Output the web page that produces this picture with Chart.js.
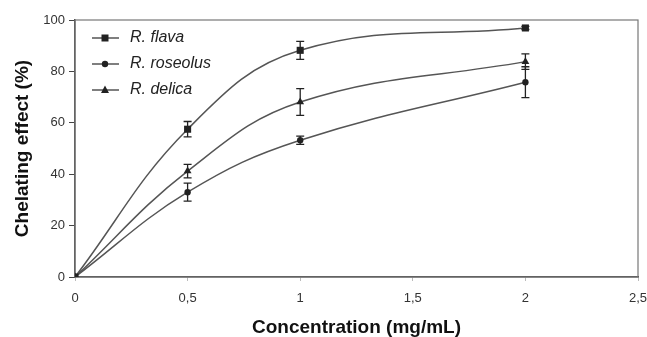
<!DOCTYPE html>
<html>
<head>
<meta charset="utf-8">
<script src="https://cdn.jsdelivr.net/npm/chart.js@4/dist/chart.umd.min.js"></script>
<style>
html, body { margin: 0; padding: 0; background: #fff; }
#wrap { width: 647px; height: 337px; }
</style>
</head>
<body>
<div id="wrap"><canvas id="chelatingChart" width="647" height="337"></canvas></div>
<script>
const concentrations = [0, 0.5, 1, 2];
const seriesNames = ['R. flava', 'R. roseolus', 'R. delica'];
const flavaValues = [0, 57.5, 88.2, 96.9];
const flavaErrors = [0, 3, 3.5, 0.6];
const roseolusValues = [0, 33, 53.2, 75.8];
const roseolusErrors = [0, 3.5, 1.6, 6];
const delicaValues = [0, 41.2, 68.1, 83.8];
const delicaErrors = [0, 2.6, 5.2, 3];
const xTicks = [0, 0.5, 1, 1.5, 2, 2.5];
const yTicks = [0, 20, 40, 60, 80, 100];

const FONT = "'Liberation Sans', Arial, sans-serif";

function toPoints(values) {
    return concentrations.map((c, i) => ({ x: c, y: values[i] }));
}

// vertical +/- bars, drawn through the chart scales
const errorBars = {
    id: 'errorBars',
    afterDatasetsDraw(chart) {
        const ctx = chart.ctx;
        const xs = chart.scales.x;
        const ys = chart.scales.y;
        ctx.save();
        ctx.strokeStyle = '#222';
        ctx.lineWidth = 1.3;
        chart.data.datasets.forEach(ds => {
            ds.errors.forEach((e, i) => {
                if (!e) return;
                const v = ds.data[i].y;
                const x = xs.getPixelForValue(ds.data[i].x);
                const y1 = ys.getPixelForValue(v + e);
                const y2 = ys.getPixelForValue(v - e);
                ctx.beginPath();
                ctx.moveTo(x, y1); ctx.lineTo(x, y2);
                ctx.moveTo(x - 4, y1); ctx.lineTo(x + 4, y1);
                ctx.moveTo(x - 4, y2); ctx.lineTo(x + 4, y2);
                ctx.stroke();
            });
        });
        ctx.restore();
    }
};

const frame = {
    id: 'frame',
    beforeDatasetsDraw(chart) {
        const a = chart.chartArea;
        const ctx = chart.ctx;
        ctx.save();
        ctx.strokeStyle = '#777';
        ctx.lineWidth = 1.2;
        ctx.strokeRect(a.left, a.top, a.right - a.left, a.bottom - a.top);
        ctx.restore();
    }
};

function drawMarker(ctx, style, x, y) {
    ctx.beginPath();
    if (style === 'rect') {
        ctx.rect(x - 3.5, y - 3.5, 7, 7);
    } else if (style === 'circle') {
        ctx.arc(x, y, 3.2, 0, Math.PI * 2);
    } else {
        ctx.moveTo(x, y - 4.5);
        ctx.lineTo(x + 4, y + 3);
        ctx.lineTo(x - 4, y + 3);
        ctx.closePath();
    }
    ctx.fill();
}

// legend with line + marker, like the original
const lineLegend = {
    id: 'lineLegend',
    afterDraw(chart) {
        const ctx = chart.ctx;
        ctx.save();
        chart.data.datasets.forEach((ds, i) => {
            const y = 38 + i * 26;
            ctx.strokeStyle = '#555';
            ctx.lineWidth = 1.5;
            ctx.beginPath();
            ctx.moveTo(92, y); ctx.lineTo(119, y);
            ctx.stroke();
            ctx.fillStyle = '#222';
            drawMarker(ctx, ds.pointStyle, 105, y);
            ctx.font = 'italic 16px ' + FONT;
            ctx.textBaseline = 'middle';
            ctx.fillText(ds.label, 130, y);
        });
        ctx.restore();
    }
};

function makeSet(label, values, errors, style, radius, order) {
    return {
        label: label,
        data: toPoints(values),
        errors: errors,
        borderColor: '#555',
        borderWidth: 1.5,
        pointStyle: style,
        pointRadius: radius,
        pointBackgroundColor: '#222',
        pointBorderColor: '#222',
        pointBorderWidth: 0,
        tension: 0.4,
        fill: false,
        order: order
    };
}

const ctx = document.getElementById('chelatingChart').getContext('2d');
const myChart = new Chart(ctx, {
    type: 'line',
    data: {
        datasets: [
            makeSet(seriesNames[0], flavaValues, flavaErrors, 'rect', 5, 0),
            makeSet(seriesNames[1], roseolusValues, roseolusErrors, 'circle', 3.2, 2),
            makeSet(seriesNames[2], delicaValues, delicaErrors, 'triangle', 4.5, 1)
        ]
    },
    options: {
        responsive: false,
        animation: false,
        layout: { padding: { top: 20, right: 0, left: 0, bottom: 0 } },
        plugins: {
            legend: { display: false },
            tooltip: { enabled: false }
        },
        scales: {
            x: {
                type: 'linear',
                min: 0,
                max: 2.5,
                afterFit: (s) => { s.height = 60; s.paddingRight = 9; s.paddingLeft = 0; },
                afterBuildTicks: (s) => { s.ticks = xTicks.map(v => ({ value: v })); },
                grid: { drawOnChartArea: false, tickLength: 4, color: '#bbb' },
                border: { color: '#444', width: 1.5 },
                ticks: {
                    color: '#333',
                    padding: 10,
                    maxRotation: 0,
                    font: { family: FONT, size: 13 },
                    callback: (v) => String(v).replace('.', ',')
                },
                title: {
                    display: true,
                    text: 'Concentration (mg/mL)',
                    color: '#111',
                    padding: { top: 0, bottom: 0 },
                    font: { family: FONT, size: 19, weight: 'bold', lineHeight: 1 }
                }
            },
            y: {
                min: 0,
                max: 100,
                afterFit: (s) => { s.width = 75; },
                afterBuildTicks: (s) => { s.ticks = yTicks.map(v => ({ value: v })); },
                grid: { drawOnChartArea: false, tickLength: 6, color: '#444' },
                border: { color: '#444', width: 1.5 },
                ticks: {
                    color: '#333',
                    padding: 4,
                    font: { family: FONT, size: 13 }
                },
                title: {
                    display: true,
                    text: 'Chelating effect (%)',
                    color: '#111',
                    padding: { top: 13, bottom: 0 },
                    font: { family: FONT, size: 19, weight: 'bold', lineHeight: 1 }
                }
            }
        }
    },
    plugins: [frame, errorBars, lineLegend]
});
</script>
</body>
</html>
